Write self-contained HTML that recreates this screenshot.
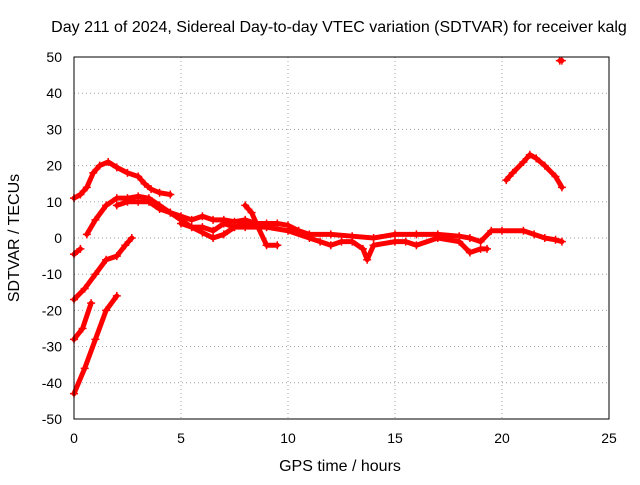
<!DOCTYPE html>
<html><head><meta charset="utf-8"><style>
body{margin:0;background:#fff}
svg text{font-family:"Liberation Sans",sans-serif;font-size:14px;fill:#000}
</style></head><body>
<svg id="c" width="640" height="480">
<text x="339" y="32" text-anchor="middle" style="font-size:16px">Day 211 of 2024, Sidereal Day-to-day VTEC variation (SDTVAR) for receiver kalg</text>
<text x="340" y="471" text-anchor="middle" style="font-size:16px">GPS time / hours</text>
<text transform="translate(19,238) rotate(-90)" text-anchor="middle" style="font-size:16px">SDTVAR / TECUs</text>
<g id="grid"></g><g id="ticks"></g><g id="series"></g>
<rect x="74" y="57" width="535" height="362" fill="none" stroke="#000"/>
</svg>
<script>
const xTicks=[0,5,10,15,20,25];
const yTicks=[-50,-40,-30,-20,-10,0,10,20,30,40,50];
const track1=[[0,11],[0.3,12],[0.6,14],[0.9,18],[1.2,20],[1.6,21],[2,19.5],[2.5,18],[3,17],[3.3,15],[3.6,13.5],[4,12.5],[4.5,12]];
const track2=[[0.6,1],[1,5],[1.5,9],[2,11],[2.5,11],[3,11.5],[3.5,11],[4,9],[4.5,7],[5,5],[5.5,3],[6,1.5],[6.5,0],[7,1],[7.5,3],[8,4],[8.5,3.5],[9,3]];
const track3=[[0,-17],[0.5,-14],[1,-10],[1.5,-6],[2,-5],[2.4,-2],[2.7,0]];
const track4=[[0,-28],[0.4,-25],[0.8,-18]];
const track5=[[0,-43],[0.5,-36],[1,-28],[1.5,-20],[2,-16]];
const track6=[[0,-4.5],[0.3,-3]];
const track7=[[2,9],[2.5,10],[3,10],[3.5,10],[4,8],[4.5,7],[5,6],[5.5,5],[6,6],[6.5,5],[7,5],[7.5,4.5],[8,5],[8.5,4],[9,4],[9.5,4],[10,3.5],[10.5,2],[11,1],[12,1],[13,0.5],[14,0],[15,1],[16,1],[17,1],[18,0.5],[18.5,0],[19,-1],[19.5,2],[20,2],[21,2],[21.5,1],[22,0],[22.5,-0.5],[22.8,-1]];
const track8=[[5,4],[5.5,3],[6,3],[6.5,2],[7,4],[7.5,3],[8,3],[9,3],[10,2],[11,0],[11.5,-1],[12,-2],[12.5,-1],[13,-1],[13.5,-3],[13.7,-6],[14,-2],[15,-1],[15.5,-1],[16,-2],[17,0],[18,-1],[18.5,-4],[19,-3],[19.3,-3]];
const track9=[[8,9],[8.3,7],[8.6,3],[9,-2],[9.5,-2]];
const track10=[[20.2,16],[20.5,18],[21,21],[21.3,23],[21.6,22],[22,20],[22.5,17],[22.8,14]];
const track11=[[22.7,49],[22.8,49]];
const tracks=[track1,track2,track3,track4,track5,track6,track7,track8,track9,track10,track11];
const X=v=>74+v*535/25, Y=v=>238-v*3.62;
const NS="http://www.w3.org/2000/svg";
const grid=document.getElementById('grid'),ticks=document.getElementById('ticks'),ser=document.getElementById('series');
function mk(tag,attrs,parent){const e=document.createElementNS(NS,tag);for(const k in attrs)e.setAttribute(k,attrs[k]);parent.appendChild(e);return e;}
xTicks.forEach(t=>{
 if(t>0&&t<25){const g=mk('line',{x1:X(t),x2:X(t),y1:57,y2:419,stroke:'#a0a0a0','stroke-dasharray':'1,3'},grid);
 
 }
 const l=mk('text',{x:X(t),y:443,'text-anchor':'middle'},ticks);l.textContent=t;
 
 
});
yTicks.forEach(t=>{
 if(t>-50&&t<50){const g=mk('line',{x1:74,x2:609,y1:Y(t),y2:Y(t),stroke:'#a0a0a0','stroke-dasharray':'1,3'},grid);
 
 }
 const l=mk('text',{x:62,y:Y(t)+5,'text-anchor':'end'},ticks);l.textContent=t;
 
 
});
tracks.forEach((tr,i)=>{
 const p=mk('polyline',{points:tr.map(d=>X(d[0])+','+Y(d[1])).join(' '),fill:'none',stroke:'#f00','stroke-width':5,'stroke-linejoin':'round','stroke-linecap':'round'},ser);
 
 
 tr.forEach(d=>{
  const m=mk('path',{d:`M${X(d[0])-4},${Y(d[1])}h8M${X(d[0])},${Y(d[1])-4}v8`,stroke:'#f00','stroke-width':1.5},ser);
  
  
 });
});
</script>
</body></html>
